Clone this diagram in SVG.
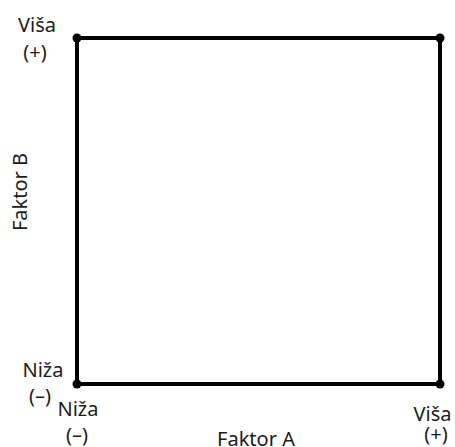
<svg xmlns="http://www.w3.org/2000/svg" width="455" height="447" viewBox="0 0 455 447">
<style>
.t{font-family:"Noto Sans","Open Sans","Liberation Sans",sans-serif;font-size:20px;fill:#1c1c1c;text-anchor:middle}
.frame{fill:none;stroke:#000;stroke-width:4}
.dot{fill:#000}
</style>
<rect width="455" height="447" fill="#fff"/>
<g id="connectors">
<rect class="frame" x="77" y="38" width="363" height="346"/>
</g>
<g id="corner-top-left">
<circle class="dot" cx="77" cy="38" r="4.5"/>
<text class="t" x="37" y="31.5">Viša</text>
<text class="t" x="35" y="59">(+)</text>
</g>
<g id="corner-top-right">
<circle class="dot" cx="440" cy="38" r="4.5"/>
</g>
<g id="corner-bottom-left">
<circle class="dot" cx="77" cy="384" r="4.5"/>
<text class="t" x="43" y="377">Niža</text>
<text class="t" x="40" y="402.5">(–)</text>
<text class="t" x="78" y="416">Niža</text>
<text class="t" x="77" y="442">(–)</text>
</g>
<g id="corner-bottom-right">
<circle class="dot" cx="440" cy="384" r="4.5"/>
<text class="t" x="432.5" y="421">Viša</text>
<text class="t" x="436" y="441">(+)</text>
</g>
<g id="axis-a">
<text class="t" x="256" y="445.5">Faktor A</text>
</g>
<g id="axis-b">
<text class="t" transform="translate(27,192) rotate(-90)">Faktor B</text>
</g>
</svg>
